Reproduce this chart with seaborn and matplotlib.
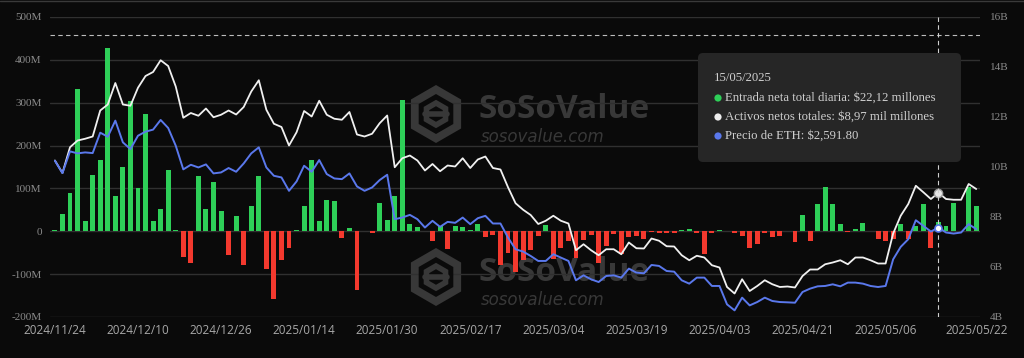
import matplotlib
matplotlib.use("Agg")
import matplotlib.pyplot as plt
import seaborn as sns
import pandas as pd
import numpy as np
from matplotlib.patches import RegularPolygon, FancyBboxPatch, Circle
from matplotlib.lines import Line2D
from matplotlib.transforms import IdentityTransform

# --- data ---
# daily total net inflow, millions USD, one value per trading day
flow = [3, 40, 89, 332, 23, 132, 167, 428, 83, 149,
        305, 101, 273, 23, 51, 144, 2, -61, -75, 130,
        52, 116, 47, -56, 35, -78, 58, 128, -87, -159,
        -68, -40, 2, 59, 166, 23, 74, 70, -15, 8,
        -136, 0, -5, 67, 27, 83, 307, 17, 9, 0,
        -23, 12, -41, 12, 11, 4, 18, -13, -8, -78,
        -50, -94, -67, -43, -12, 14, -64, -38, -23, -62,
        -21, -9, -73, -35, -7, -52, -13, -12, -19, -2,
        -3, -4, -4, 4, 6, -3, -52, -4, 2, 0,
        -4, -12, -38, -29, -4, -13, -12, 0, -26, 38,
        -23, 63, 104, 64, 18, -2, 5, 19, 0, -19,
        -23, -19, 17, -18, 12, 63, -40, 22, 12, 65,
        0, 104, 58]

# total net assets, billions USD
assets = [10.26, 9.76, 10.79, 11.06, 11.13, 11.22, 12.26, 12.50, 13.36, 12.50,
          12.45, 13.17, 13.64, 13.80, 14.27, 14.04, 13.22, 11.97, 12.16, 12.05,
          12.34, 11.99, 12.09, 12.26, 12.10, 12.40, 13.02, 13.47, 12.29, 11.73,
          11.60, 10.86, 11.39, 12.24, 12.02, 12.65, 12.09, 11.93, 11.89, 12.20,
          11.30, 11.22, 11.33, 11.75, 12.06, 9.99, 10.35, 10.46, 10.26, 9.86,
          10.12, 9.83, 10.06, 10.02, 10.35, 9.96, 10.30, 10.42, 9.96, 9.90,
          9.19, 8.55, 8.29, 8.08, 7.72, 7.85, 8.05, 7.85, 7.74, 6.67,
          6.91, 6.67, 6.47, 6.71, 6.71, 6.51, 6.98, 6.75, 6.74, 7.14,
          7.05, 6.83, 6.82, 6.47, 6.27, 6.45, 6.38, 6.07, 5.98, 5.20,
          4.94, 5.51, 5.04, 5.24, 5.47, 5.31, 5.20, 5.22, 5.18, 5.64,
          5.90, 5.90, 6.11, 6.18, 6.27, 6.11, 6.38, 6.38, 6.27, 6.14,
          6.14, 7.34, 8.05, 8.52, 9.25, 8.99, 8.72, 8.97, 8.72, 8.69,
          8.69, 9.32, 9.12]

# ETH price, USD
price = [3489, 3323, 3615, 3588, 3601, 3592, 3866, 3812, 4028, 3736,
         3646, 3825, 3880, 3907, 4037, 3929, 3691, 3373, 3435, 3399,
         3440, 3319, 3332, 3391, 3341, 3453, 3588, 3669, 3399, 3287,
         3265, 3085, 3211, 3422, 3341, 3498, 3310, 3251, 3242, 3319,
         3144, 3085, 3130, 3229, 3301, 2704, 2726, 2762, 2704, 2592,
         2682, 2601, 2668, 2655, 2726, 2637, 2717, 2749, 2646, 2646,
         2457, 2300, 2269, 2210, 2143, 2143, 2233, 2188, 2143, 1883,
         1950, 1896, 1860, 1941, 1950, 1919, 2040, 1986, 1977, 2089,
         2076, 2008, 1999, 1883, 1838, 1919, 1919, 1807, 1807, 1560,
         1479, 1650, 1546, 1591, 1650, 1605, 1591, 1587, 1582, 1726,
         1771, 1802, 1807, 1829, 1802, 1852, 1852, 1838, 1807, 1793,
         1807, 2165, 2332, 2435, 2690, 2614, 2538, 2591.8, 2525, 2511,
         2525, 2637, 2570]

tick_pos = [0, 11, 22, 33, 44, 55, 66, 77, 88, 99, 110, 122]
tick_labels = ["2024/11/24", "2024/12/10", "2024/12/26", "2025/01/14",
               "2025/01/30", "2025/02/17", "2025/03/04", "2025/03/19",
               "2025/04/03", "2025/04/21", "2025/05/06", "2025/05/22"]
left_ticks = [-200, -100, 0, 100, 200, 300, 400, 500]
right_ticks = [4, 6, 8, 10, 12, 14, 16]
hover_idx = 117
hover_level = 457

df = pd.DataFrame({"idx": np.arange(len(flow)), "flow": flow,
                   "assets": assets, "price": price})
df["sign"] = np.where(df["flow"] >= 0, "pos", "neg")

# --- style ---
bg = "#0a0a0a"
green = "#2ecf58"
red = "#f3392e"
blue = "#5a78ec"
white = "#f0f0f0"
grid = "#303030"
serif = "Liberation Serif"

sns.set_style("dark", {"axes.facecolor": bg, "figure.facecolor": bg})

W, H = 1024, 358
fig = plt.figure(figsize=(W / 100, H / 100), dpi=100, facecolor=bg)
ax = fig.add_axes([50 / W, 1 - 317 / H, 930 / W, 300 / H])
ax.set_facecolor(bg)

sns.barplot(data=df, x="idx", y="flow", hue="sign",
            palette={"pos": green, "neg": red}, dodge=False, width=0.65,
            saturation=1, errorbar=None, legend=False, ax=ax, zorder=2,
            edgecolor="none", linewidth=0)

ax2 = ax.twinx()
sns.lineplot(data=df, x="idx", y="assets", color=white, lw=1.3, ax=ax2)
ax3 = ax.twinx()
sns.lineplot(data=df, x="idx", y="price", color=blue, lw=1.4, ax=ax3)

ax.set_xlim(-0.65, 122.5)
ax.set_ylim(-200, 500)
ax2.set_ylim(4, 16)
ax3.set_ylim(1390, 5420)

ax.set_yticks(left_ticks)
ax.set_yticklabels([("0" if v == 0 else f"{v}M") for v in left_ticks],
                   family=serif, fontsize=8, color="#8a8a8a")
ax.yaxis.grid(True, color=grid, lw=1)
ax.xaxis.grid(False)
ax.set_axisbelow(True)
ax.set_xticks(tick_pos)
ax.set_xticklabels(tick_labels, family="Open Sans", fontsize=8.5, color="#a8a8a8")
ax.tick_params(axis="both", length=0)
ax.tick_params(axis="y", pad=6)
ax.tick_params(axis="x", pad=5)
ax.set_xlabel("")
ax.set_ylabel("")

ax2.set_yticks(right_ticks)
ax2.set_yticklabels([f"{v}B" for v in right_ticks], family=serif,
                    fontsize=8, color="#8a8a8a")
ax2.tick_params(axis="y", length=0, pad=7)
ax2.set_ylabel("")
ax2.grid(False)
ax3.set_yticks([])
ax3.set_ylabel("")
ax3.grid(False)
for a in (ax, ax2, ax3):
    for s in a.spines.values():
        s.set_visible(False)

# hover crosshair and markers
ax.axhline(hover_level, color="#bdbdbd", lw=0.8, ls=(0, (4, 3)), zorder=3)
ax3.axvline(hover_idx, color="#d0d0d0", lw=0.8, ls=(0, (4, 3)), zorder=3)
ax2.plot(hover_idx, assets[hover_idx], "o", ms=6, mfc="#e6e6e6", mec="#9a9a9a", zorder=5)
ax3.plot(hover_idx, price[hover_idx], "o", ms=5, mfc="#ffffff", mec=blue, mew=1.2, zorder=5)

# watermarks (behind the bars)
wm = "#383838"
for cy in (114, 277):
    ax.add_artist(RegularPolygon((436, H - cy), 6, radius=29, transform=IdentityTransform(),
                                 fc=wm, ec="none", zorder=0.5))
    ax.add_artist(RegularPolygon((436, H - cy), 6, radius=20, transform=IdentityTransform(),
                                 fc=bg, ec="none", zorder=0.6))
    ax.add_artist(RegularPolygon((436, H - cy), 6, radius=11, transform=IdentityTransform(),
                                 fc="none", ec=wm, lw=4, zorder=0.7))
    ax.add_artist(Line2D([425, 447], [H - cy, H - cy], transform=IdentityTransform(),
                         color=wm, lw=4, zorder=0.7))
    ax.text(479 / W, 1 - (cy + 4) / H, "SoSoValue", transform=fig.transFigure,
            family="Open Sans", fontweight="bold", fontsize=24, color=wm,
            ha="left", va="baseline", zorder=0.5)
    ax.text(481 / W, 1 - (cy + 14) / H, "sosovalue.com", transform=fig.transFigure,
            family="DejaVu Sans", style="italic", fontsize=12, color=wm,
            ha="left", va="top", zorder=0.5)

# tooltip
fig.add_artist(FancyBboxPatch((698, H - 162), 263, 109, boxstyle="round,pad=0,rounding_size=5",
                              transform=IdentityTransform(), fc="#262626", ec="none", zorder=5))
tcol = "#cfcfcf"
fig.text(714 / W, 1 - 78 / H, "15/05/2025", family=serif, fontsize=9.2,
         color=tcol, va="center", zorder=6)
rows = [(green, "Entrada neta total diaria: $22,12 millones", 98),
        ("#eeeeee", "Activos netos totales: $8,97 mil millones", 117),
        (blue, "Precio de ETH: $2,591.80", 136)]
for c, txt, y in rows:
    fig.add_artist(Circle((718, H - y), 3.6, transform=IdentityTransform(),
                          fc=c, ec="none", zorder=6))
    fig.text(725 / W, 1 - y / H, txt, family=serif, fontsize=9.2,
             color=tcol, va="center", zorder=6)

fig.add_artist(Line2D([0, 1], [1 - 0.5 / H, 1 - 0.5 / H], transform=fig.transFigure,
                      color="#3a3a3a", lw=1))

fig.savefig("out.png", dpi=100, facecolor=bg)
